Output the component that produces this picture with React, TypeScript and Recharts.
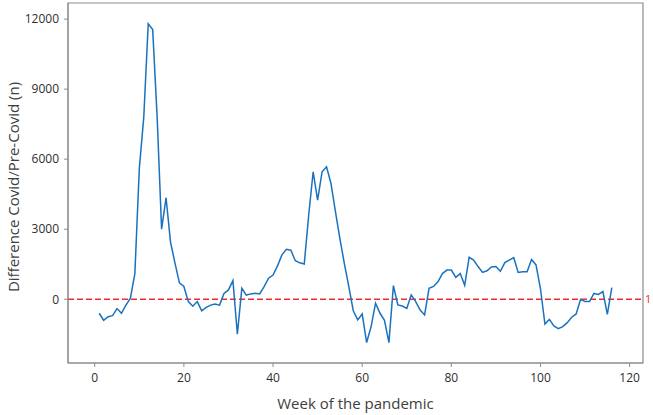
import React from 'react';
import {
  LineChart,
  Line,
  XAxis,
  YAxis,
  ReferenceLine,
  ReferenceArea,
} from 'recharts';

// difference in counts, one value per week (weeks 1..116)
const weeks: number[] = Array.from({ length: 116 }, (_, i) => i + 1);
const differences: number[] = [
  -600, -900, -750, -700, -400, -600, -250, 50, 1100, 5600,
  7800, 11800, 11550, 7800, 3000, 4350, 2450, 1550, 700, 550,
  -100, -300, -100, -500, -350, -250, -200, -250, 250, 400,
  800, -1500, 470, 180, 230, 260, 230, 540, 900, 1040,
  1430, 1900, 2140, 2100, 1650, 1560, 1510, 3600, 5460, 4250,
  5460, 5675, 4960, 3750, 2600, 1530, 540, -490, -885, -630,
  -1855, -1170, -170, -600, -900, -1855, 585, -245, -290, -390,
  185, -100, -460, -670, 470, 550, 750, 1100, 1250, 1250,
  940, 1100, 600, 1800, 1680, 1400, 1150, 1220, 1380, 1400,
  1200, 1570, 1680, 1780, 1150, 1180, 1180, 1700, 1470, 450,
  -1060, -860, -1140, -1260, -1170, -1000, -770, -630, 0, -100,
  -100, 250, 210, 330, -650, 500,
];

const xTicks = [0, 20, 40, 60, 80, 100, 120];
const yTicks = [0, 3000, 6000, 9000, 12000];
const xDomain: [number, number] = [-6, 123];
const yDomain: [number, number] = [-2730, 12690];

const data = weeks.map((week, i) => ({ week, diff: differences[i] }));

const FONT = '"Open Sans", "Noto Sans", sans-serif';
const AXIS_GRAY = '#8c8c8c';
const RED = '#ee2a35';

const App = () => {
  return (
    <div style={{ position: 'absolute', left: 0, top: 0, background: '#fff' }}>
      <LineChart
        width={653}
        height={415}
        data={data}
        margin={{ top: 3, right: 10, bottom: 0, left: 8 }}
      >
        <ReferenceArea
          x1={xDomain[0]}
          x2={xDomain[1]}
          y1={yDomain[0]}
          y2={yDomain[1]}
          fill="none"
          stroke={AXIS_GRAY}
          strokeWidth={1.2}
        />
        <XAxis
          dataKey="week"
          type="number"
          domain={xDomain}
          ticks={xTicks}
          height={52}
          tickSize={4}
          tickMargin={6}
          stroke={AXIS_GRAY}
          tick={{ fill: '#2e2e2e', fontSize: 12, fontFamily: FONT }}
          label={{
            content: (props: any) => {
              const vb = props.viewBox;
              return (
                <text
                  x={vb.x + vb.width / 2}
                  y={409}
                  textAnchor="middle"
                  fill="#404040"
                  fontSize={15}
                  fontFamily={FONT}
                >
                  Week of the pandemic
                </text>
              );
            },
          }}
        />
        <YAxis
          type="number"
          domain={yDomain}
          ticks={yTicks}
          width={60}
          tickSize={4}
          tickMargin={5}
          stroke={AXIS_GRAY}
          tick={{ fill: '#2e2e2e', fontSize: 12, fontFamily: FONT }}
          label={{
            content: () => (
              <text
                x={19}
                y={187}
                transform="rotate(-90 19 187)"
                textAnchor="middle"
                fill="#404040"
                fontSize={15}
                fontFamily={FONT}
              >
                Difference Covid/Pre-Covid (n)
              </text>
            ),
          }}
        />
        <ReferenceLine
          y={0}
          stroke={RED}
          strokeWidth={1.6}
          strokeDasharray="6 3"
          label={{
            value: '1',
            position: 'right',
            offset: 2,
            fill: RED,
            fontSize: 11,
            fontFamily: FONT,
          }}
        />
        <Line
          type="linear"
          dataKey="diff"
          stroke="#1a72bf"
          strokeWidth={1.5}
          dot={false}
          isAnimationActive={false}
        />
      </LineChart>
    </div>
  );
};

export default App;
